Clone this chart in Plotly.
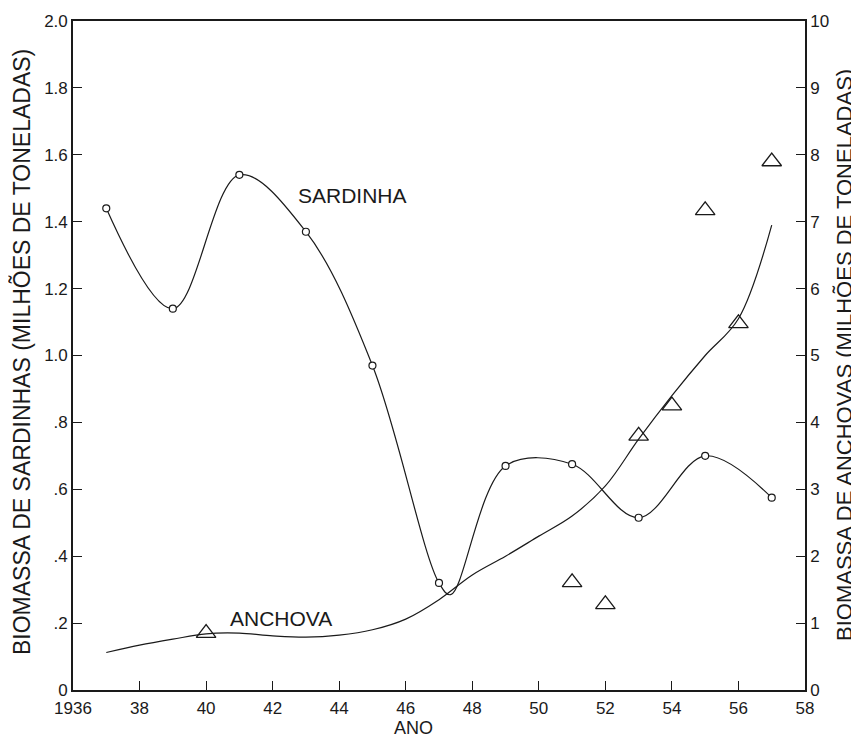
import plotly.graph_objects as go

# Sardinha (left axis, million tonnes)
sard_years = [1937, 1939, 1941, 1943, 1945, 1947, 1949, 1951, 1953, 1955, 1957]
sard_values = [1.44, 1.14, 1.54, 1.37, 0.97, 0.32, 0.67, 0.675, 0.515, 0.70, 0.575]
# Sardinha drawn curve (incl. dip after 1947)
sard_curve_years = [1937, 1939, 1941, 1943, 1945, 1947, 1947.35, 1949, 1951, 1953, 1955, 1957]
sard_curve_values = [1.44, 1.14, 1.54, 1.37, 0.97, 0.32, 0.285, 0.67, 0.675, 0.515, 0.70, 0.575]

# Anchova observations (right axis, million tonnes)
anch_years = [1940, 1951, 1952, 1953, 1954, 1955, 1956, 1957]
anch_values = [0.85, 1.61, 1.28, 3.80, 4.25, 7.17, 5.48, 7.9]
# Anchova trend curve
anch_curve_years = [1937, 1938, 1939, 1940, 1941, 1942, 1943, 1944, 1945, 1946, 1947,
                    1948, 1949, 1950, 1951, 1952, 1953, 1954, 1955, 1956, 1957]
anch_curve_values = [0.56, 0.67, 0.76, 0.84, 0.85, 0.81, 0.79, 0.82, 0.90, 1.06, 1.35,
                     1.72, 2.0, 2.3, 2.6, 3.05, 3.75, 4.4, 5.0, 5.55, 6.95]

x_ticks = [1936, 1938, 1940, 1942, 1944, 1946, 1948, 1950, 1952, 1954, 1956, 1958]
x_labels = ["1936", "38", "40", "42", "44", "46", "48", "50", "52", "54", "56", "58"]
y_ticks = [0, 0.2, 0.4, 0.6, 0.8, 1.0, 1.2, 1.4, 1.6, 1.8, 2.0]
y_labels = ["0", ".2", ".4", ".6", ".8", "1.0", "1.2", "1.4", "1.6", "1.8", "2.0"]
y2_ticks = [0, 1, 2, 3, 4, 5, 6, 7, 8, 9, 10]
y2_labels = ["0", "1", "2", "3", "4", "5", "6", "7", "8", "9", "10"]

FONT = "Liberation Sans"
INK = "#1a1a1a"
# page body adds an 8px offset; size the figure so the plot lands where the reference has it
PAGE_OFF = 8
PLOT_L, PLOT_T, PLOT_R, PLOT_B = 73, 21, 805, 690
FIG_W, FIG_H = 859 - PAGE_OFF, 737 - PAGE_OFF
PW, PH = PLOT_R - PLOT_L, PLOT_B - PLOT_T

fig = go.Figure()

fig.add_trace(go.Scatter(x=sard_curve_years, y=sard_curve_values, mode="lines",
                         line=dict(color=INK, width=1.2, shape="spline", smoothing=1.0),
                         showlegend=False, hoverinfo="skip"))
fig.add_trace(go.Scatter(x=sard_years, y=sard_values, mode="markers",
                         marker=dict(symbol="circle", size=7, color="white",
                                     line=dict(color=INK, width=1.2)),
                         showlegend=False, name="Sardinha"))
fig.add_trace(go.Scatter(x=anch_curve_years, y=anch_curve_values, mode="lines", yaxis="y2",
                         line=dict(color=INK, width=1.2, shape="spline", smoothing=1.0),
                         showlegend=False, hoverinfo="skip"))
fig.add_trace(go.Scatter(x=anch_years, y=anch_values, mode="markers", yaxis="y2",
                         marker=dict(symbol="triangle-up-open", size=17, color=INK,
                                     line=dict(color=INK, width=1.3)),
                         showlegend=False, name="Anchova"))

fig.add_annotation(x=1944.4, y=1.478, text="SARDINHA", showarrow=False,
                   font=dict(family=FONT, size=21, color=INK))
fig.add_annotation(x=1942.24, y=0.215, text="ANCHOVA", showarrow=False,
                   font=dict(family=FONT, size=21, color=INK))
fig.add_annotation(x=(413 - PLOT_L) / PW, y=(PLOT_B - 728) / PH, xref="paper", yref="paper",
                   text="ANO", showarrow=False, yanchor="middle", borderpad=0,
                   font=dict(family=FONT, size=18, color=INK))
fig.add_annotation(x=(22 - PLOT_L) / PW, y=(PLOT_B - 352) / PH, xref="paper", yref="paper",
                   text="BIOMASSA DE SARDINHAS (MILHÕES DE TONELADAS)", textangle=-90,
                   showarrow=False, xanchor="center", yanchor="middle",
                   font=dict(family=FONT, size=23, color=INK))
fig.add_annotation(x=(844 - PLOT_L) / PW, y=(PLOT_B - 355) / PH, xref="paper", yref="paper",
                   text="BIOMASSA DE ANCHOVAS (MILHÕES DE TONELADAS)", textangle=-90,
                   showarrow=False, xanchor="center", yanchor="middle",
                   font=dict(family=FONT, size=22, color=INK))

axis_common = dict(ticks="inside", ticklen=9, tickwidth=1.2, tickcolor=INK,
                   showline=True, linecolor=INK, linewidth=1.6,
                   showgrid=False, zeroline=False, automargin=False,
                   tickfont=dict(family=FONT, size=17, color=INK))

fig.update_layout(
    width=FIG_W, height=FIG_H,
    margin=dict(l=PLOT_L - PAGE_OFF, r=FIG_W - (PLOT_R - PAGE_OFF),
                t=PLOT_T - PAGE_OFF, b=FIG_H - (PLOT_B - PAGE_OFF)),
    paper_bgcolor="white", plot_bgcolor="white",
    font=dict(family=FONT, color=INK),
    xaxis=dict(range=[1936, 1958], tickvals=x_ticks, ticktext=x_labels, mirror=True,
               ticklabelstandoff=2, **axis_common),
    yaxis=dict(range=[0, 2.0], tickvals=y_ticks, ticktext=y_labels, **axis_common),
    yaxis2=dict(range=[0, 10], tickvals=y2_ticks, ticktext=y2_labels,
                overlaying="y", side="right", **axis_common),
)

fig.write_html("out.html")
